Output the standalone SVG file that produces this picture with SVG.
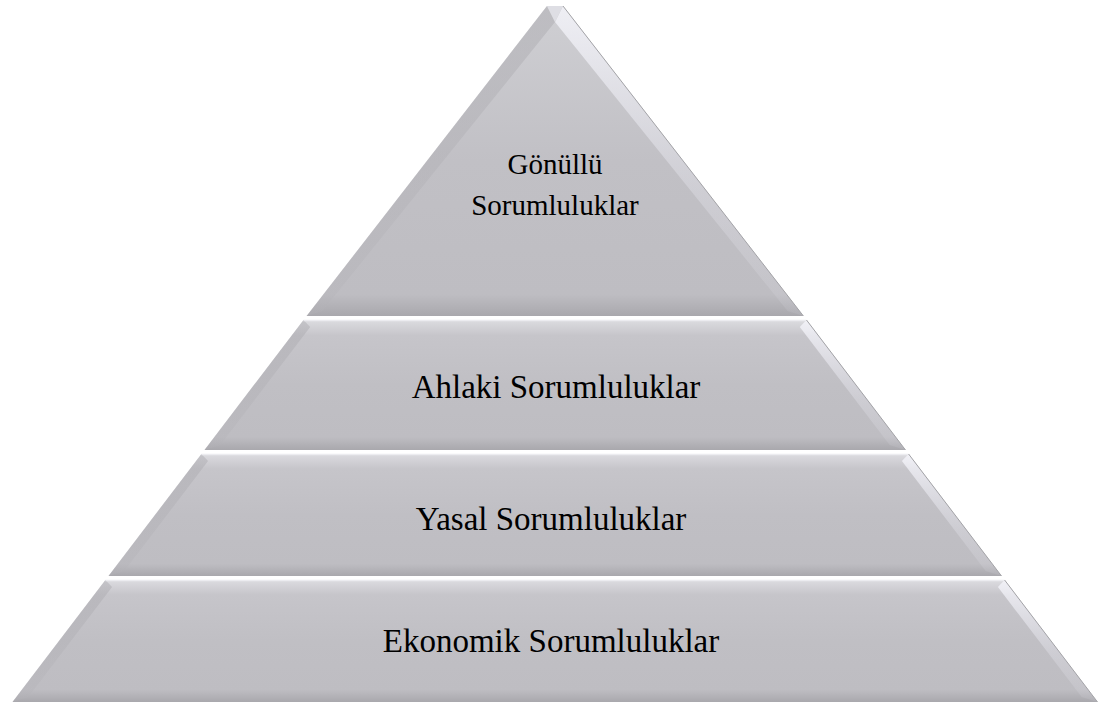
<svg xmlns="http://www.w3.org/2000/svg" width="1101" height="704" viewBox="0 0 1101 704">
<style>
.lbl{font-family:"Liberation Serif","Times New Roman",serif;fill:#000;text-anchor:middle}
.edge{fill:none;stroke:#a3a3a7;stroke-width:1}
</style>
<defs>
<linearGradient id="body" x1="0" y1="0" x2="0" y2="1">
<stop offset="0" stop-color="#dcdce0"/>
<stop offset="0.12" stop-color="#c6c5ca"/>
<stop offset="0.5" stop-color="#c0bfc4"/>
<stop offset="0.9" stop-color="#bebdc2"/>
<stop offset="1" stop-color="#a9a8ad"/>
</linearGradient>
<linearGradient id="body1" x1="0" y1="0" x2="0" y2="1">
<stop offset="0" stop-color="#cfcfd3"/>
<stop offset="0.5" stop-color="#c1c0c5"/>
<stop offset="0.93" stop-color="#bebdc2"/>
<stop offset="1" stop-color="#a9a8ad"/>
</linearGradient>
<linearGradient id="hiR" x1="0" y1="0" x2="0" y2="1">
<stop offset="0" stop-color="#f4f4fa" stop-opacity="0.85"/>
<stop offset="0.6" stop-color="#e8e8f0" stop-opacity="0.35"/>
<stop offset="1" stop-color="#e8e8f0" stop-opacity="0.1"/>
</linearGradient>
<linearGradient id="shL" x1="0" y1="0" x2="0" y2="1">
<stop offset="0" stop-color="#a8a7ac" stop-opacity="0.45"/>
<stop offset="1" stop-color="#b4b3b8" stop-opacity="0.3"/>
</linearGradient>
</defs>

<g id="gonullu">
<polygon points="547,6 563,6 803.4,316 306.6,316" fill="url(#body1)"/>
<polygon points="547,6 555,22 322.4,311 306.6,316" fill="url(#shL)"/>
<polygon points="563,6 803.4,316 787.6,311 555,22" fill="url(#hiR)"/>
<polygon points="547,6 563,6 555,22" fill="#dedee4"/>
<polyline class="edge" points="563,6 803.4,316"/>
<text class="lbl" font-family="Liberation Serif, serif" x="555" y="174" font-size="29">Gönüllü</text>
<text class="lbl" font-family="Liberation Serif, serif" x="555" y="215" font-size="29">Sorumluluklar</text>
</g>

<g id="ahlaki">
<polygon points="303.5,320 806.5,320 905.5,450 204.5,450" fill="url(#body)"/>
<polygon points="303.5,320 310.2,327 220.3,445 204.5,450" fill="url(#shL)"/>
<polygon points="806.5,320 905.5,450 889.7,445 799.8,327" fill="url(#hiR)"/>
<line x1="303.5" y1="320.5" x2="806.5" y2="320.5" stroke="#ececf0" stroke-width="1.5"/>
<polyline class="edge" points="806.5,320 905.5,450"/>
<text class="lbl" font-family="Liberation Serif, serif" x="556" y="398" font-size="33">Ahlaki Sorumluluklar</text>
</g>

<g id="yasal">
<polygon points="201.4,454 908.6,454 1001.5,576 108.5,576" fill="url(#body)"/>
<polygon points="201.4,454 208.1,461 124.3,571 108.5,576" fill="url(#shL)"/>
<polygon points="908.6,454 1001.5,576 985.7,571 901.9,461" fill="url(#hiR)"/>
<line x1="201.4" y1="454.5" x2="908.6" y2="454.5" stroke="#ececf0" stroke-width="1.5"/>
<polyline class="edge" points="908.6,454 1001.5,576"/>
<text class="lbl" font-family="Liberation Serif, serif" x="551" y="530" font-size="33">Yasal Sorumluluklar</text>
</g>

<g id="ekonomik">
<polygon points="105.4,580 1004.6,580 1097.5,702 12.5,702" fill="url(#body)"/>
<polygon points="105.4,580 112.1,587 28.3,697 12.5,702" fill="url(#shL)"/>
<polygon points="1004.6,580 1097.5,702 1081.7,697 997.9,587" fill="url(#hiR)"/>
<line x1="105.4" y1="580.5" x2="1004.6" y2="580.5" stroke="#ececf0" stroke-width="1.5"/>
<polyline class="edge" points="1004.6,580 1097.5,702"/>
<text class="lbl" font-family="Liberation Serif, serif" x="551" y="652" font-size="33">Ekonomik Sorumluluklar</text>
</g>

<g id="connectors"></g>
</svg>
